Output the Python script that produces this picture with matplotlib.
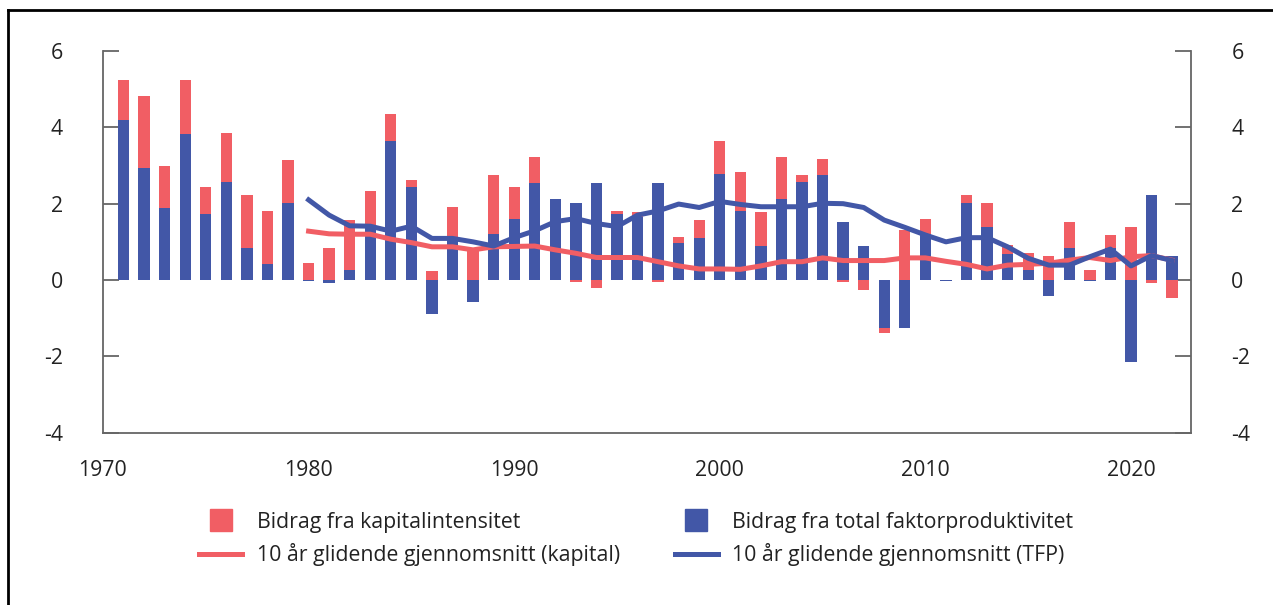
import numpy as np
import matplotlib
matplotlib.use("Agg")
import matplotlib.pyplot as plt
from matplotlib.lines import Line2D

plt.rcParams['font.family'] = ['Open Sans', 'DejaVu Sans']
plt.rcParams['axes.unicode_minus'] = False

RED = '#F15E64'
BLUE = '#4257A7'
FS = 15.3

years = np.arange(1971, 2023)

# Bidrag fra total faktorproduktivitet
tfp = [4.20, 2.94, 1.89, 3.83, 1.74, 2.58, 0.85, 0.43, 2.03,
       -0.02, -0.07, 0.27, 1.45, 3.64, 2.45, -0.90, 1.12, -0.57, 1.20,
       1.61, 2.53, 2.11, 2.03, 2.53, 1.74, 1.64, 2.53, 0.98, 1.11,
       2.79, 1.82, 0.90, 2.11, 2.58, 2.74, 1.53, 0.90, -1.26, -1.26,
       1.20, -0.02, 2.03, 1.40, 0.69, 0.27, -0.43, 0.85, -0.02, 0.85,
       -2.16, 2.24, 0.64]

# Bidrag fra kapitalintensitet
kapital = [1.05, 1.89, 1.10, 1.42, 0.70, 1.28, 1.38, 1.39, 1.12,
           0.44, 0.85, 1.29, 0.87, 0.70, 0.16, 0.23, 0.78, 0.80, 1.54,
           0.84, 0.68, 0.00, -0.06, -0.22, 0.08, 0.13, -0.06, 0.16, 0.45,
           0.86, 1.00, 0.87, 1.10, 0.16, 0.42, -0.06, -0.27, -0.13, 1.32,
           0.41, 0.00, 0.21, 0.63, 0.24, 0.45, 0.64, 0.68, 0.27, 0.34,
           1.40, -0.07, -0.48]

# 10 års glidende gjennomsnitt, 1980-2022
ma_years = np.arange(1980, 2023)
ma_tfp = [2.10, 1.70, 1.42, 1.41, 1.28, 1.41, 1.09, 1.09, 1.00, 0.89,
          1.11, 1.29, 1.53, 1.61, 1.48, 1.40, 1.70, 1.81, 1.99, 1.90,
          2.06, 1.98, 1.92, 1.92, 1.92, 2.01, 2.00, 1.90, 1.57, 1.38,
          1.18, 1.00, 1.11, 1.11, 0.87, 0.57, 0.39, 0.39, 0.61, 0.81,
          0.37, 0.64, 0.51]
ma_kapital = [1.28, 1.21, 1.20, 1.20, 1.07, 0.98, 0.87, 0.87, 0.79, 0.87,
              0.88, 0.89, 0.79, 0.70, 0.59, 0.59, 0.59, 0.48, 0.37, 0.29,
              0.29, 0.28, 0.37, 0.48, 0.48, 0.58, 0.51, 0.51, 0.51, 0.58,
              0.58, 0.49, 0.41, 0.29, 0.39, 0.41, 0.44, 0.52, 0.59, 0.51,
              0.61, 0.64, 0.52]

fig = plt.figure(figsize=(12.73, 6.05), dpi=100)
ax = fig.add_axes([0.0809, 0.2848, 0.8547, 0.6309])

# stacked bars, positive and negative parts stacked separately
pos_bottom = np.zeros(len(years))
neg_bottom = np.zeros(len(years))
for vals, col in [(tfp, BLUE), (kapital, RED)]:
    v = np.array(vals)
    bottom = np.where(v >= 0, pos_bottom, neg_bottom)
    ax.bar(years, v, bottom=bottom, width=0.55, color=col, linewidth=0, zorder=2)
    pos_bottom += np.clip(v, 0, None)
    neg_bottom += np.clip(v, None, 0)

ax.plot(ma_years, ma_kapital, color=RED, lw=3.6, solid_joinstyle='round', zorder=3)
ax.plot(ma_years, ma_tfp, color=BLUE, lw=3.6, solid_joinstyle='round', zorder=4)

ax.set_xlim(1970, 2022.92)
ax.set_ylim(-4, 6)
ax.set_yticks([-4, -2, 0, 2, 4, 6])
ax.set_xticks([1970, 1980, 1990, 2000, 2010, 2020])

for side in ['left', 'right', 'bottom']:
    ax.spines[side].set_color('#666666')
    ax.spines[side].set_linewidth(1.3)
ax.spines['top'].set_visible(False)

ax.tick_params(axis='y', direction='in', length=11.5, width=1.3, color='#666666',
               left=True, right=True, labelleft=True, labelright=True,
               pad=29, labelsize=FS, labelcolor='#222222')
ax.tick_params(axis='x', length=0, pad=20, labelsize=FS, labelcolor='#222222')

handles = [
    Line2D([], [], marker='s', markersize=16.5, linestyle='none', color=RED),
    Line2D([], [], color=RED, lw=3.6),
    Line2D([], [], marker='s', markersize=16.5, linestyle='none', color=BLUE),
    Line2D([], [], color=BLUE, lw=3.6),
]
labels = [
    'Bidrag fra kapitalintensitet',
    '10 år glidende gjennomsnitt (kapital)',
    'Bidrag fra total faktorproduktivitet',
    '10 år glidende gjennomsnitt (TFP)',
]
fig.legend(handles, labels, loc='center', bbox_to_anchor=(0.5, 1 - 539 / 605),
           ncol=2, frameon=False, fontsize=FS, handlelength=2.0,
           handletextpad=0.7, columnspacing=2.6, labelspacing=0.5,
           labelcolor='#222222')

# frame around the figure (top and left edges)
fig.add_artist(Line2D([8 / 1273, 8 / 1273], [0, 1 - 10 / 605], color='black', lw=2,
                      transform=fig.transFigure))
fig.add_artist(Line2D([8 / 1273, 1], [1 - 10 / 605, 1 - 10 / 605], color='black', lw=2,
                      transform=fig.transFigure))

fig.savefig('out.png', dpi=100)
